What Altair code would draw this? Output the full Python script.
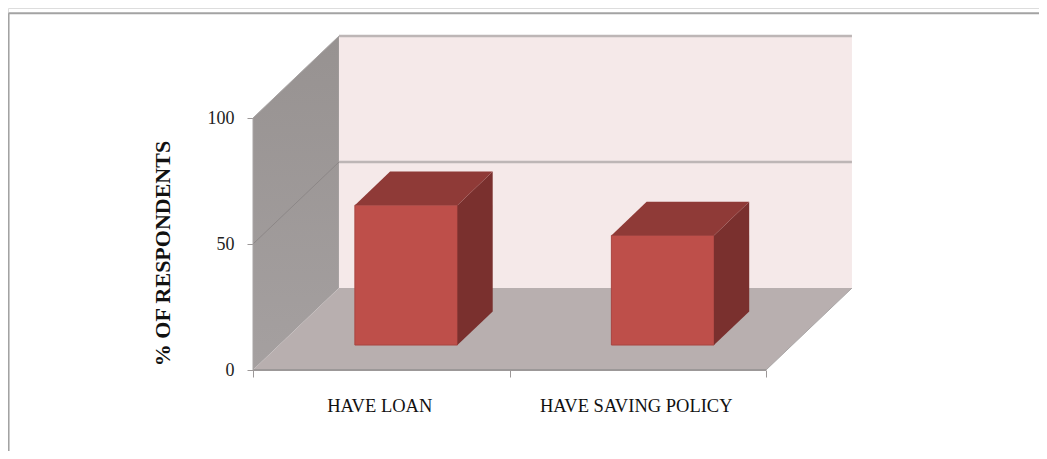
import altair as alt
import pandas as pd

# ---- values
CATEGORIES = ["HAVE LOAN", "HAVE SAVING POLICY"]
VALUES = [55.5, 43.5]
Y_TICKS = [0, 50, 100]
Y_TITLE = "% OF RESPONDENTS"

# ---- oblique 3-D projection, in data units
DX, DY = 0.335, 32.5          # shift of the back wall per unit of depth
BAR_W, Z0, Z1 = 0.40, 0.305, 0.715
BAR_SHIFT = -0.005
YMAX = Y_TICKS[-1]
N = len(CATEGORIES)

def P(x, v, z):
    return x + DX * z, v + DY * z

X_DOM = [-0.9552, 3.0643]
Y_DOM = [-32.14, 143.65]
X = lambda f="x", **k: alt.X(f, type="quantitative", scale=alt.Scale(domain=X_DOM, nice=False, zero=False), axis=None, **k)
Y = lambda f="y", **k: alt.Y(f, type="quantitative", scale=alt.Scale(domain=Y_DOM, nice=False, zero=False), axis=None, stack=None, **k)


def band(pts, horizontal=False, **mark):
    """Parallelograms from rows of (group, x, y, other edge)."""
    out = []
    df = pd.DataFrame(pts, columns=["g", "x", "y", "e"])
    for _, part in df.groupby("g", sort=False):
        part = part.drop(columns="g")
        if horizontal:
            out.append(alt.Chart(part).mark_area(orient="horizontal", **mark).encode(
                x=X("x"), x2=alt.X2("e"), y=Y("y")))
        else:
            out.append(alt.Chart(part).mark_area(orient="vertical", **mark).encode(
                x=X("x"), y=Y("y"), y2=alt.Y2("e")))
    return alt.layer(*out)


def seg(rows, color, width):
    df = pd.DataFrame(rows, columns=["x", "y", "x2", "y2"])
    return alt.Chart(df).mark_rule(color=color, strokeWidth=width).encode(
        x=X("x"), y=Y("y"), x2=alt.X2("x2"), y2=alt.Y2("y2"))


# walls
bx, by0 = P(0, 0, 1)
_, by1 = P(0, YMAX, 1)
back = pd.DataFrame([dict(x=bx, e=bx + N, y=by0, y2=by1)])
back_wall = alt.Chart(back).mark_rect(color="#F5E9E9").encode(
    x=X("x"), x2=alt.X2("e"), y=Y("y"), y2=alt.Y2("y2"))

left_wall = band(
    [("w", 0, 0, YMAX), ("w", bx, by0, by1)],
    color=alt.Gradient(gradient="linear", x1=0, y1=0, x2=0, y2=1,
                       stops=[alt.GradientStop(color="#979291", offset=0),
                              alt.GradientStop(color="#A5A0A0", offset=1)]))

floor = band([("f", 0, 0, N), ("f", bx, by0, bx + N)], horizontal=True, color="#B8AFAF")

gp = P(0, Y_TICKS[1], 1)
grid = seg([(bx, gp[1], bx + N, gp[1]), (bx, by1, bx + N, by1)], "#BDB6B6", 2.5)
grid_side = seg([(0, Y_TICKS[1], gp[0], gp[1])], "#8C8787", 1)
floor_edge = seg([(0, 0, N, 0)], "#9C9898", 2)
floor_right = seg([(N, 0, N + bx, by0)], "#A9A5A5", 1)
axis_y = seg([(0, 0, 0, YMAX), (0, YMAX, bx, by1)], "#A8A4A4", 1)

# bars
fronts, sides, tops = [], [], []
for i, (c, v) in enumerate(zip(CATEGORIES, VALUES)):
    x0 = i + 0.5 - BAR_W / 2 + BAR_SHIFT
    x1 = x0 + BAR_W
    fx0, fb = P(x0, 0, Z0)
    fx1, ft = P(x1, v, Z0)
    rx1, rb = P(x1, 0, Z1)
    _, rt = P(x1, v, Z1)
    rx0 = P(x0, v, Z1)[0]
    fronts.append(dict(x=fx0, x2=fx1, y=fb, y2=ft))
    sides += [(c, fx1, fb, ft), (c, rx1, rb, rt)]
    tops += [(c, fx0, ft, fx1), (c, rx0, rt, rx1)]

front = alt.Chart(pd.DataFrame(fronts)).mark_rect(
    color="#BE4F4A", stroke="#A94541", strokeWidth=1).encode(
    x=X("x"), x2=alt.X2("x2"), y=Y("y"), y2=alt.Y2("y2"))
side = band(sides, color="#7A302E")
top = band(tops, horizontal=True, color="#8F3A37")

# frame of the picture
frame = seg([(-0.953, 141.6, X_DOM[1], 141.6), (-0.953, 141.6, -0.953, Y_DOM[0])], "#A3A3A3", 2)

# axes: carried by invisible marks so that they sit on the projected chart
labels = {i + 0.5: c for i, c in enumerate(CATEGORIES)}
label_expr = " : ".join(f"datum.value == {k} ? '{v}'" for k, v in labels.items()) + " : ''"
x_axis = alt.Chart(pd.DataFrame({"x": [0.0], "y": [0.0]})).mark_point(opacity=0).encode(
    x=alt.X("x:Q", scale=alt.Scale(domain=X_DOM, nice=False, zero=False),
            axis=alt.Axis(values=[0, 0.5, 1, 1.5, 2], labelExpr=label_expr, title=None, grid=False,
                          domain=False, offset=-81, tickSize=7, tickColor="#9C9898", tickWidth=1,
                          tickOpacity=alt.condition("datum.value % 1 == 0", alt.value(1), alt.value(0)),
                          labelPadding=19, labelOffset=-2, labelFont="Liberation Serif", labelFontSize=18.5,
                          labelLimit=400, labelColor="#111111", labelOverlap=False, labelFlush=False)),
    y=alt.Y("y:Q", scale=alt.Scale(domain=Y_DOM, nice=False, zero=False),
            axis=alt.Axis(values=Y_TICKS, title=Y_TITLE, grid=False, domain=False, offset=-245,
                          tickSize=6, tickColor="#9C9898", tickWidth=1, labelPadding=13,
                          labelFont="Liberation Serif", labelFontSize=18, labelColor="#222222",
                          titleFont="Liberation Serif", titleFontSize=22, titleFontWeight="bold",
                          titleColor="#111111", titleX=-91, titleY=245, titleAngle=270,
                          titleAlign="center", titleBaseline="middle")),
)

chart = alt.layer(
    frame, back_wall, left_wall, floor, grid, grid_side,
    floor_edge, floor_right, axis_y, front, side, top, x_axis,
).resolve_axis(x="independent", y="independent").properties(
    width=1031, height=443, padding=0, autosize=alt.AutoSizeParams(type="none")
).configure_view(stroke=None).configure(background="#FFFFFF")

chart.save("out.html", embed_options={"renderer": "svg", "actions": False})
